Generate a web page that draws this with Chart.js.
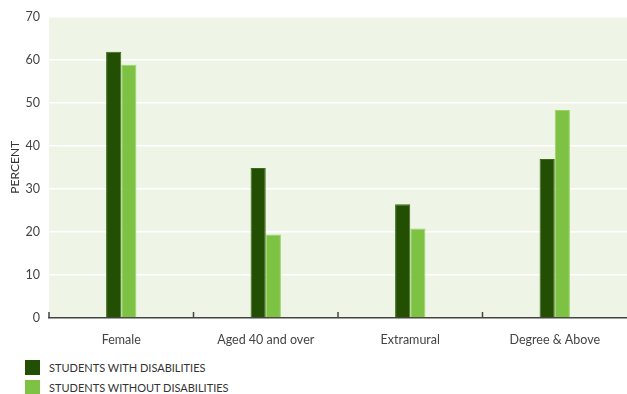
<!DOCTYPE html>
<html>
<head>
<meta charset="utf-8">
<script src="https://cdn.jsdelivr.net/npm/chart.js@4/dist/chart.umd.min.js"></script>
<style>
  body { margin: 0; background: #fff; font-family: Lato, "Open Sans", sans-serif; }
  #wrap { position: relative; width: 627px; height: 394px; }
  #chart { position: absolute; left: 0; top: 0; }
  #legend { position: absolute; left: 25px; top: 357px; font-size: 11px; color: #333; }
  #legend div { display: flex; align-items: center; height: 20px; }
  #legend span.box { width: 15px; height: 15px; margin-right: 9px; display: inline-block; }
</style>
</head>
<body>
<div id="wrap">
  <canvas id="chart" width="627" height="351"></canvas>
  <div id="legend"></div>
</div>
<script>
const categories = ['Female', 'Aged 40 and over', 'Extramural', 'Degree & Above'];
const withDisabilities = [61.8, 34.8, 26.4, 36.9];
const withoutDisabilities = [58.8, 19.4, 20.8, 48.3];
const yTicks = [0, 10, 20, 30, 40, 50, 60, 70];

const darkGreen = '#234f03';
const lightGreen = '#7dc243';

// plot area background + inward category ticks
const plotBg = {
    id: 'plotBg',
    beforeDraw(chart) {
        const { ctx, chartArea } = chart;
        ctx.save();
        ctx.fillStyle = '#eef4e6';
        ctx.fillRect(chartArea.left, chartArea.top, chartArea.right - chartArea.left, chartArea.bottom - chartArea.top);
        ctx.restore();
    },
    afterDraw(chart) {
        const { ctx, chartArea } = chart;
        const x = chart.scales.x;
        ctx.save();
        ctx.strokeStyle = '#444';
        ctx.lineWidth = 1.5;
        for (let i = 0; i < categories.length; i++) {
            const px = x.getPixelForValue(i) - x.width / categories.length / 2;
            ctx.beginPath();
            ctx.moveTo(px, chartArea.bottom);
            ctx.lineTo(px, chartArea.bottom - 6);
            ctx.stroke();
        }
        ctx.restore();
    }
};

const datasets = [{
    label: 'STUDENTS WITH DISABILITIES',
    data: withDisabilities,
    backgroundColor: darkGreen,
    borderColor: '#3b6a1a',
    borderWidth: 1
}, {
    label: 'STUDENTS WITHOUT DISABILITIES',
    data: withoutDisabilities,
    backgroundColor: lightGreen,
    borderColor: '#9ad46a',
    borderWidth: 1
}];

const ctx = document.getElementById('chart').getContext('2d');
new Chart(ctx, {
    type: 'bar',
    data: { labels: categories, datasets: datasets },
    options: {
        responsive: false,
        animation: false,
        layout: { padding: { top: 14, right: 0, left: 0, bottom: 0 } },
        datasets: { bar: { categoryPercentage: 0.21, barPercentage: 1 } },
        plugins: { legend: { display: false }, tooltip: { enabled: false } },
        scales: {
            x: {
                grid: { display: false, drawTicks: false },
                border: { display: true, color: '#444', width: 1.5 },
                ticks: { color: '#444', padding: 14, font: { family: 'Lato', size: 12.5 } },
                afterFit: s => { s.height = 33; }
            },
            y: {
                min: 0,
                max: 70,
                afterBuildTicks: s => { s.ticks = yTicks.map(v => ({ value: v })); },
                grid: { color: '#ffffff', lineWidth: 1.5, drawTicks: false },
                border: { display: false },
                ticks: { color: '#444', padding: 9, font: { family: 'Lato', size: 12.5 } },
                title: { display: true, text: 'PERCENT', color: '#333', padding: { top: 8, bottom: 4 }, font: { family: 'Lato', size: 12 } },
                afterFit: s => { s.width = 49; }
            }
        }
    },
    plugins: [plotBg]
});

// html legend
const legend = document.getElementById('legend');
datasets.forEach(ds => {
    const row = document.createElement('div');
    const box = document.createElement('span');
    box.className = 'box';
    box.style.background = ds.backgroundColor;
    row.appendChild(box);
    row.appendChild(document.createTextNode(ds.label));
    legend.appendChild(row);
});
</script>
</body>
</html>
